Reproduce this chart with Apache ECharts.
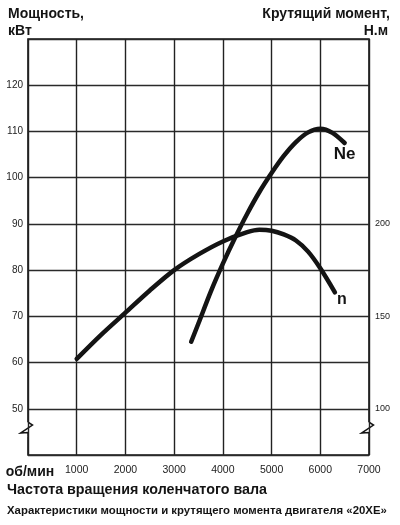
<!DOCTYPE html>
<html><head><meta charset="utf-8">
<script src="https://cdn.jsdelivr.net/npm/echarts@6/dist/echarts.min.js"></script>
<style>html,body{margin:0;padding:0;background:#fff}#c{width:400px;height:525px}</style>
</head><body><div id="c"></div>
<script>
// Power curve Ne (kW) vs engine speed (rpm)
const rpmPower = [3350, 3500, 3750, 4000, 4250, 4500, 4750, 5000, 5250, 5500, 5750, 6000, 6250, 6500];
const powerKw  = [64.5, 68.5, 75.3, 81.4, 87.0, 92.2, 96.9, 101.0, 104.7, 107.7, 109.8, 110.6, 109.7, 107.5];
// Torque curve n (N·m) vs engine speed (rpm)
const rpmTorque = [1000, 1500, 2000, 2500, 3000, 3500, 4000, 4500, 4750, 5000, 5250, 5500, 5750, 6000, 6300];
const torqueNm  = [127, 140, 152, 164, 175, 183.5, 190.5, 195.5, 196.8, 196.3, 194.3, 191, 185, 176, 163];
// Tick labels
const rpmTicks = [1000, 2000, 3000, 4000, 5000, 6000, 7000];
const powerTicks = [50, 60, 70, 80, 90, 100, 110, 120];
const torqueTicks = [100, 150, 200];

const FONT = '"Liberation Sans", Arial, sans-serif';
const INK = '#141414';
const chart = echarts.init(document.getElementById('c'), null, {renderer: 'canvas'});

const option = {
  animation: false,
  backgroundColor: '#fff',
  textStyle: {fontFamily: FONT, color: INK},
  grid: {left: 28, right: 31, top: 39, bottom: 70, show: true, borderColor: INK, borderWidth: 1.6, containLabel: false},
  xAxis: {
    type: 'value', min: 0, max: 7000, interval: 1000,
    axisLine: {show: false}, axisTick: {show: false},
    splitLine: {show: true, lineStyle: {color: '#222', width: 1.4}},
    axisLabel: {
      margin: 10, fontSize: 10.5, color: '#222', fontFamily: FONT,
      formatter: v => v === 0 ? '{b|об/мин}' : (rpmTicks.includes(v) ? String(v) : ''),
      rich: {b: {fontSize: 14, fontWeight: 'bold', color: INK, fontFamily: FONT, padding: [0, 0, 0, 4]}}
    }
  },
  yAxis: [
    {
      type: 'value', min: 40, max: 130, interval: 10,
      axisLine: {show: false}, axisTick: {show: false},
      splitLine: {show: true, lineStyle: {color: '#2a2a2a', width: 1.3}},
      axisLabel: {margin: 5, fontSize: 10, color: '#222', fontFamily: FONT,
        formatter: v => powerTicks.includes(v) ? String(v) : ''}
    },
    {
      type: 'value', min: 75, max: 300, interval: 25, position: 'right',
      axisLine: {show: false}, axisTick: {show: false}, splitLine: {show: false},
      axisLabel: {margin: 6, fontSize: 9, color: '#222', fontFamily: FONT,
        formatter: v => torqueTicks.includes(v) ? String(v) : ''}
    }
  ],
  series: [
    {
      name: 'Ne', type: 'line', yAxisIndex: 0, smooth: 0.3, showSymbol: false,
      lineStyle: {color: INK, width: 4.5, cap: 'round', join: 'round'},
      data: rpmPower.map((r, i) => [r, powerKw[i]])
    },
    {
      name: 'n', type: 'line', yAxisIndex: 1, smooth: 0.3, showSymbol: false,
      lineStyle: {color: INK, width: 4.5, cap: 'round', join: 'round'},
      data: rpmTorque.map((r, i) => [r, torqueNm[i]])
    }
  ],
  graphic: [
    {type: 'text', left: 8, top: 7, style: {text: 'Мощность,', font: 'bold 14px ' + FONT, fill: INK}},
    {type: 'text', left: 8, top: 24, style: {text: 'кВт', font: 'bold 14px ' + FONT, fill: INK}},
    {type: 'text', right: 10, top: 7, style: {text: 'Крутящий момент,', font: 'bold 14px ' + FONT, fill: INK}},
    {type: 'text', right: 12, top: 24, style: {text: 'Н.м', font: 'bold 14px ' + FONT, fill: INK}},
    {type: 'text', left: 7, top: 483, style: {text: 'Частота вращения коленчатого вала', font: 'bold 14.3px ' + FONT, fill: INK}},
    {type: 'text', left: 7, top: 505, style: {text: 'Характеристики мощности и крутящего момента двигателя «20ХЕ»', font: 'bold 11.4px ' + FONT, fill: INK}}
  ]
};
chart.setOption(option);

// Curve labels and axis break marks placed through the chart's own scales
const neEnd = chart.convertToPixel({xAxisIndex: 0, yAxisIndex: 0}, [rpmPower[rpmPower.length - 1], powerKw[powerKw.length - 1]]);
const nEnd = chart.convertToPixel({xAxisIndex: 0, yAxisIndex: 1}, [rpmTorque[rpmTorque.length - 1], torqueNm[torqueNm.length - 1]]);
const bl = chart.convertToPixel({xAxisIndex: 0, yAxisIndex: 0}, [0, 45.6]);
const br = chart.convertToPixel({xAxisIndex: 0, yAxisIndex: 0}, [7000, 45.6]);
function brk(p) {
  const x = p[0], y = p[1];
  return [
    {type: 'rect', shape: {x: x - 2, y: y - 7, width: 4, height: 14}, style: {fill: '#fff'}},
    {type: 'polyline', shape: {points: [[x, y - 7], [x + 4.5, y - 4], [x - 7.5, y + 4], [x, y + 3.5], [x, y + 7]]},
     style: {stroke: INK, lineWidth: 1.5, fill: null}}
  ];
}
chart.setOption({graphic: option.graphic.concat([
  {type: 'text', x: neEnd[0], y: neEnd[1] + 11, style: {text: 'Ne', font: 'bold 17px ' + FONT, fill: INK, align: 'center', verticalAlign: 'middle'}},
  {type: 'text', x: nEnd[0] + 7, y: nEnd[1] + 7, style: {text: 'n', font: 'bold 16px ' + FONT, fill: INK, align: 'center', verticalAlign: 'middle'}}
]).concat(brk(bl)).concat(brk(br))});
</script>
</body></html>
